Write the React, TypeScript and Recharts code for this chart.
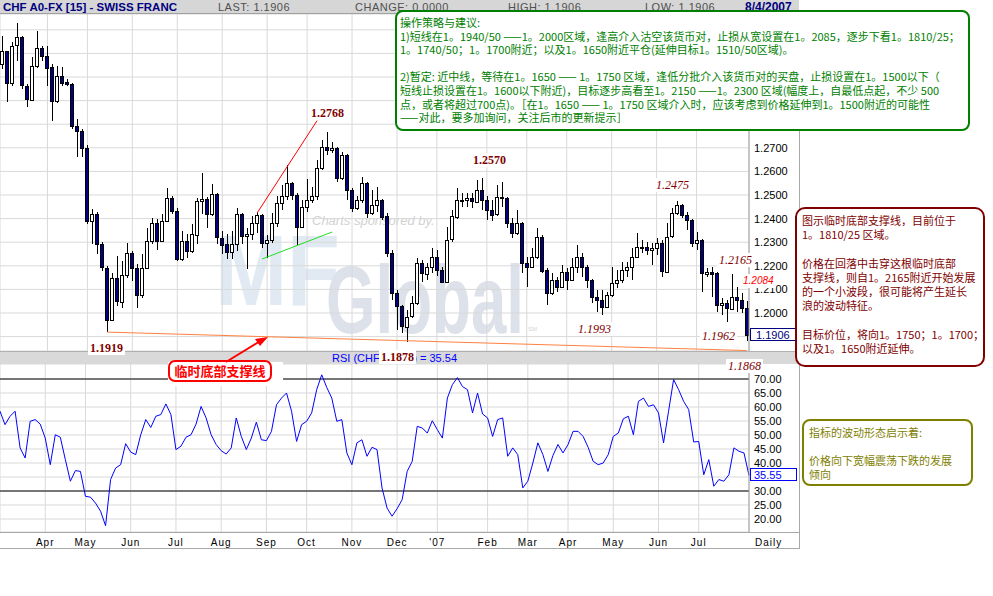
import React from "react";
import { ComposedChart, Bar, Line, XAxis, YAxis, CartesianGrid, ReferenceLine } from "recharts";

// daily USD/CHF bars (one entry per ~2.4 sessions)
const opens = [
  1.3055, 1.3111, 1.2977, 1.3133, 1.3168, 1.2963, 1.2906, 1.3048, 1.3125, 1.309,
  1.3041, 1.2899, 1.3005, 1.2977, 1.297, 1.2793, 1.2772, 1.2701, 1.239, 1.2418,
  1.2291, 1.2192, 1.1972, 1.2149, 1.205, 1.2163, 1.2255, 1.2192, 1.2078, 1.2192,
  1.2305, 1.2383, 1.2305, 1.239, 1.2489, 1.2432, 1.2227, 1.2305, 1.2262, 1.2333,
  1.2475, 1.2482, 1.2418, 1.2503, 1.2319, 1.2291, 1.2255, 1.2291, 1.2418, 1.2326,
  1.2333, 1.2381, 1.2416, 1.2296, 1.231, 1.2381, 1.2465, 1.2494, 1.255, 1.2501,
  1.2366, 1.2451, 1.2479, 1.2494, 1.2614, 1.2705, 1.2691, 1.2698, 1.2571, 1.267,
  1.2522, 1.2444, 1.2479, 1.255, 1.2423, 1.2458, 1.2479, 1.2409, 1.2253, 1.2084,
  1.2028, 1.1943, 1.1985, 1.2042, 1.2211, 1.2169, 1.2197, 1.2239, 1.2183, 1.2133,
  1.231, 1.2409, 1.2479, 1.2479, 1.2486, 1.2472, 1.2522, 1.2479, 1.2437, 1.2416,
  1.249, 1.2486, 1.238, 1.2338, 1.238, 1.2211, 1.2196, 1.2239, 1.2324, 1.2182,
  1.2083, 1.214, 1.2112, 1.2175, 1.214, 1.2196, 1.2239, 1.2196, 1.214, 1.2069,
  1.2055, 1.2027, 1.2076, 1.2126, 1.214, 1.2182, 1.2196, 1.2239, 1.2281, 1.2281,
  1.2267, 1.2274, 1.2295, 1.2175, 1.2324, 1.2422, 1.2458, 1.2415, 1.2394, 1.2295,
  1.2309, 1.2168, 1.2175, 1.2168, 1.2034, 1.2041, 1.202, 1.2069, 1.2055, 1.202,
];
const highs = [
  1.3175, 1.3055, 1.3147, 1.3227, 1.3175, 1.297, 1.3083, 1.3196, 1.3133, 1.3133,
  1.3055, 1.3048, 1.3041, 1.2991, 1.2975, 1.2821, 1.278, 1.2712, 1.2439, 1.243,
  1.23, 1.22, 1.217, 1.2241, 1.222, 1.2298, 1.2262, 1.2206, 1.2248, 1.2361,
  1.2404, 1.2397, 1.2418, 1.2531, 1.2496, 1.2446, 1.2347, 1.2333, 1.2376, 1.2489,
  1.2595, 1.249, 1.2545, 1.251, 1.2347, 1.2333, 1.2347, 1.2446, 1.2425, 1.2361,
  1.2409, 1.243, 1.242, 1.2331, 1.2423, 1.2494, 1.2543, 1.2628, 1.2557, 1.2508,
  1.2479, 1.2567, 1.2536, 1.2649, 1.2734, 1.2768, 1.2726, 1.2705, 1.2684, 1.2675,
  1.253, 1.2494, 1.2578, 1.2557, 1.2522, 1.2536, 1.2485, 1.2423, 1.2268, 1.2098,
  1.2035, 1.2013, 1.207, 1.2232, 1.2225, 1.2211, 1.2275, 1.2268, 1.2197, 1.2366,
  1.2437, 1.2529, 1.2508, 1.2508, 1.2508, 1.2564, 1.257, 1.2494, 1.2479, 1.2543,
  1.2556, 1.249, 1.2401, 1.2436, 1.2385, 1.2239, 1.2274, 1.2359, 1.233, 1.219,
  1.2168, 1.2154, 1.2203, 1.2189, 1.2232, 1.2288, 1.2253, 1.2203, 1.2145, 1.2098,
  1.2098, 1.2091, 1.2196, 1.2182, 1.2218, 1.2218, 1.2274, 1.2338, 1.2309, 1.2302,
  1.2295, 1.2316, 1.2309, 1.238, 1.2444, 1.2475, 1.2462, 1.2429, 1.24, 1.2345,
  1.2315, 1.2189, 1.2196, 1.2172, 1.2062, 1.2055, 1.2165, 1.2112, 1.2084, 1.205,
];
const lows = [
  1.3034, 1.2892, 1.2963, 1.3069, 1.2949, 1.2871, 1.2899, 1.304, 1.3069, 1.2963,
  1.2814, 1.289, 1.2963, 1.2963, 1.2779, 1.2659, 1.2659, 1.2376, 1.2291, 1.2248,
  1.2177, 1.1919, 1.1965, 1.2029, 1.2022, 1.2149, 1.2135, 1.2022, 1.2064, 1.2185,
  1.2291, 1.2269, 1.23, 1.2385, 1.2418, 1.222, 1.222, 1.2234, 1.2255, 1.2291,
  1.2418, 1.2361, 1.241, 1.2291, 1.2248, 1.2227, 1.2227, 1.2262, 1.2291, 1.2185,
  1.231, 1.2338, 1.2275, 1.2232, 1.2296, 1.2366, 1.2437, 1.2479, 1.2479, 1.2289,
  1.236, 1.243, 1.2465, 1.2479, 1.2606, 1.267, 1.2677, 1.2553, 1.2565, 1.2479,
  1.243, 1.2437, 1.2465, 1.2402, 1.2416, 1.243, 1.2395, 1.2239, 1.2056, 1.1929,
  1.1915, 1.1878, 1.1978, 1.2035, 1.2133, 1.2141, 1.2169, 1.2155, 1.2126, 1.2128,
  1.23, 1.24, 1.2451, 1.2451, 1.2444, 1.2465, 1.2437, 1.2395, 1.2388, 1.2409,
  1.2451, 1.2359, 1.2316, 1.2331, 1.2168, 1.2112, 1.2189, 1.223, 1.2168, 1.2034,
  1.2075, 1.2091, 1.2105, 1.2098, 1.2135, 1.2168, 1.2154, 1.2105, 1.2041, 1.2006,
  1.1993, 1.202, 1.2069, 1.2105, 1.2126, 1.2154, 1.214, 1.2232, 1.2253, 1.2246,
  1.2203, 1.2246, 1.2154, 1.217, 1.2318, 1.2415, 1.2401, 1.2352, 1.2281, 1.2267,
  1.2091, 1.2154, 1.2069, 1.2006, 1.1992, 1.1962, 1.2013, 1.2006, 1.1999, 1.188,
];
const closes = [
  1.3111, 1.2977, 1.3133, 1.3168, 1.2963, 1.2906, 1.3048, 1.3125, 1.309, 1.3041,
  1.2899, 1.3005, 1.2977, 1.297, 1.2793, 1.2772, 1.2701, 1.239, 1.2418, 1.2291,
  1.2192, 1.1972, 1.2149, 1.205, 1.2163, 1.2255, 1.2192, 1.2078, 1.2192, 1.2305,
  1.2383, 1.2305, 1.239, 1.2489, 1.2432, 1.2227, 1.2305, 1.2262, 1.2333, 1.2475,
  1.2482, 1.2418, 1.2503, 1.2319, 1.2291, 1.2255, 1.2291, 1.2418, 1.2326, 1.2333,
  1.2381, 1.2416, 1.2296, 1.231, 1.2381, 1.2465, 1.2494, 1.255, 1.2501, 1.2366,
  1.2451, 1.2479, 1.2494, 1.2614, 1.2705, 1.2691, 1.2698, 1.2571, 1.267, 1.2522,
  1.2444, 1.2479, 1.255, 1.2423, 1.2458, 1.2479, 1.2409, 1.2253, 1.2084, 1.2028,
  1.1943, 1.1985, 1.2042, 1.2211, 1.2169, 1.2197, 1.2239, 1.2183, 1.2133, 1.231,
  1.2409, 1.2479, 1.2479, 1.2486, 1.2472, 1.2522, 1.2479, 1.2437, 1.2416, 1.249,
  1.2486, 1.238, 1.2338, 1.238, 1.2211, 1.2196, 1.2239, 1.2324, 1.2182, 1.2083,
  1.214, 1.2112, 1.2175, 1.214, 1.2196, 1.2239, 1.2196, 1.214, 1.2069, 1.2055,
  1.2027, 1.2076, 1.2126, 1.214, 1.2182, 1.2196, 1.2239, 1.2281, 1.2281, 1.2267,
  1.2274, 1.2295, 1.2175, 1.2324, 1.2422, 1.2458, 1.2415, 1.2394, 1.2295, 1.2309,
  1.2168, 1.2175, 1.2168, 1.2034, 1.2041, 1.202, 1.2069, 1.2055, 1.202, 1.1906,
];
const rsiValues = [
  58.5, 53.7, 56.7, 58.5, 45.4, 41.8, 54.9, 55.5, 53.9, 48.9,
  39.4, 50.1, 49.2, 41.2, 33.5, 37.3, 37.0, 28.1, 27.8, 25.7,
  22.8, 17.6, 34.1, 38.2, 39.4, 46.9, 43.9, 43.0, 50.1, 55.5,
  52.7, 56.7, 57.3, 61.1, 57.3, 44.8, 46.0, 49.2, 50.1, 53.9,
  60.2, 56.1, 50.1, 46.6, 44.4, 43.2, 45.4, 56.1, 49.5, 44.8,
  48.9, 54.6, 48.3, 48.0, 51.3, 60.8, 63.2, 65.0, 58.5, 47.7,
  53.7, 54.9, 57.9, 66.2, 71.5, 67.0, 63.2, 54.9, 55.5, 43.6,
  39.4, 47.2, 48.3, 42.4, 45.6, 44.8, 31.1, 23.9, 21.0, 23.7,
  26.9, 37.0, 40.6, 53.1, 52.5, 50.7, 55.1, 51.9, 48.9, 63.2,
  68.0, 70.5, 67.3, 66.2, 57.9, 65.0, 57.5, 56.1, 49.5, 55.5,
  56.1, 42.4, 45.4, 43.0, 31.1, 33.5, 40.0, 47.2, 43.0, 37.0,
  42.7, 46.6, 43.6, 46.6, 51.3, 51.3, 49.5, 45.6, 40.6, 39.4,
  40.0, 43.0, 49.5, 50.7, 55.8, 56.7, 50.1, 62.0, 63.2, 60.2,
  60.8, 57.9, 47.2, 58.5, 69.8, 66.2, 62.0, 59.1, 47.5, 47.7,
  35.8, 41.2, 31.7, 34.1, 33.5, 35.8, 45.4, 44.2, 43.6, 35.55,
];

// first bar of each month, and its label
const monthIdx = [9, 17, 26, 35, 44, 53, 61, 70, 79, 87, 97, 105, 113, 122, 131, 139];
const monthNames = ["Apr", "May", "Jun", "Jul", "Aug", "Sep", "Oct", "Nov", "Dec", "'07", "Feb", "Mar", "Apr", "May", "Jun", "Jul"];
const priceTicks = [1.19, 1.2, 1.21, 1.22, 1.23, 1.24, 1.25, 1.26, 1.27, 1.28, 1.29, 1.3, 1.31, 1.32];
const rsiTicks = [20, 25, 30, 35, 40, 45, 50, 55, 60, 65, 70];

const data = closes.map((close, i) => ({
  i,
  open: opens[i],
  high: highs[i],
  low: lows[i],
  close,
  range: [lows[i], highs[i]],
  rsi: rsiValues[i],
}));

const cjk = '"Noto Sans CJK SC", sans-serif';
const sans = '"Liberation Sans", Arial, sans-serif';

const Candle = (props: any) => {
  const { x, y, width, height, payload } = props;
  if (!payload) return null;
  const top = Math.min(y, y + height);
  const h = Math.abs(height);
  const span = payload.high - payload.low;
  const k = span > 0 ? h / span : 0;
  const cx = Math.round(x + width / 2);
  const yo = top + (payload.high - payload.open) * k;
  const yc = top + (payload.high - payload.close) * k;
  const up = payload.close >= payload.open;
  const bTop = Math.round(Math.min(yo, yc));
  const bH = Math.max(1, Math.round(Math.abs(yo - yc)));
  return (
    <g shapeRendering="crispEdges">
      <line x1={cx + 0.5} x2={cx + 0.5} y1={Math.round(top)} y2={Math.round(top + h)} stroke="#000" />
      <rect x={cx - 1.5} y={bTop + 0.5} width={3} height={bH} fill={up ? "#fff" : "#000080"} stroke="#000" />
    </g>
  );
};

// labels for 1.19 and above 1.27 sit under the value box / comment box in the original
const PriceTick = (p: any) => {
  const v = Number(p.payload.value);
  if (v < 1.195 || v > 1.275) return <g />;
  return (
    <text x={p.x} y={p.y + 4} fontSize={11} fontFamily={sans} fill="#000">
      {v.toFixed(4)}
    </text>
  );
};

const RsiTick = (p: any) => (
  <text x={p.x} y={p.y + 4} fontSize={11} fontFamily={sans} fill="#000">
    {Number(p.payload.value).toFixed(2)}
  </text>
);

const MonthTick = (p: any) => (
  <text x={p.x} y={p.y + 14} textAnchor="middle" fontSize={10} fontFamily={sans} letterSpacing={1} fill="#000">
    {monthNames[monthIdx.indexOf(p.payload.value)] ?? ""}
  </text>
);

const Tag = ({ x, y, text, bold = false, italic = false, color = "#800000", size = 12, family = '"Liberation Serif", serif' }: any) => (
  <div
    style={{
      position: "absolute",
      left: x - 2,
      top: y - 7,
      height: 14,
      lineHeight: "14px",
      padding: "0 2px",
      fontFamily: family,
      fontSize: size,
      fontWeight: bold ? 700 : 400,
      fontStyle: italic ? "italic" : "normal",
      color,
      background: "#fff",
      whiteSpace: "nowrap",
    }}
  >
    {text}
  </div>
);

const greenLines = [
  "操作策略与建议:",
  "1)短线在1。1940/50 ——1。2000区域，逢高介入沽空该货币对，止损从宽设置在1。2085，逐步下看1。1810/25；",
  "1。1740/50；1。1700附近；以及1。1650附近平仓(延伸目标1。1510/50区域)。",
  "",
  "2)暂定: 近中线，等待在1。1650 —— 1。1750 区域，逢低分批介入该货币对的买盘，止损设置在1。1500以下（",
  "短线止损设置在1。1600以下附近)，目标逐步高看至1。2150 ——1。2300 区域(幅度上，自最低点起，不少 500",
  "点，或者将超过700点)。［在1。1650 —— 1。1750 区域介入时，应该考虑到价格延伸到1。1500附近的可能性",
  "——对此，要多加询问，关注后市的更新提示］",
];
const redLines = [
  "图示临时底部支撑线，目前位于",
  "1。1810/25 区域。",
  "",
  "价格在回落中击穿这根临时底部",
  "支撑线，则自1。2165附近开始发展",
  "的一个小波段，很可能将产生延长",
  "浪的波动特征。",
  "",
  "目标价位，将向1。1750；1。1700；",
  "以及1。1650附近延伸。",
];
const oliveLines = ["指标的波动形态启示着:", "", "价格向下宽幅震荡下跌的发展", "倾向"];

const TextBox = ({ left, top, width, height, color, radius, lines, lh, padTop, padLeft, size = 11 }: any) => (
  <div
    style={{
      position: "absolute",
      left,
      top,
      width,
      height,
      boxSizing: "border-box",
      border: `2px solid ${color}`,
      borderRadius: radius,
      background: "#fff",
      color,
      fontFamily: cjk,
      fontSize: size,
      paddingTop: padTop,
      paddingLeft: padLeft,
      overflow: "hidden",
    }}
  >
    {lines.map((t: string, k: number) => (
      <div key={k} style={{ height: lh, lineHeight: `${lh}px`, whiteSpace: "pre" }}>
        {t}
      </div>
    ))}
  </div>
);

export default function App() {
  return (
    <div style={{ position: "absolute", left: 0, top: 0, width: 993, height: 596, background: "#fff", overflow: "hidden", fontFamily: sans }}>
      {/* sponsor watermark behind the bars */}
      <svg style={{ position: "absolute", left: 0, top: 0 }} width={993} height={596}>
        <text x={215} y={305} fontSize={100} fontWeight={900} fontFamily={sans} fill="#e1eaf3" textLength={125} lengthAdjust="spacingAndGlyphs">MF</text>
        <text x={326} y={333} fontSize={96} fontWeight={700} fontFamily={sans} fill="#dde1ea" textLength={198} lengthAdjust="spacingAndGlyphs">Global</text>
        <text x={528} y={331} fontSize={6} fontFamily={sans} fill="#d4d4d4">SM</text>
        <text x={312} y={225} fontSize={13} fontStyle="italic" fontFamily={sans} fill="#d2d2d2">Charts sponsored by.</text>
      </svg>

      {/* header */}
      <div style={{ position: "absolute", left: 0, top: 0, width: 799, height: 13, background: "#d6d6d6", borderBottom: "1px solid #a0a0a0", whiteSpace: "nowrap" }}>
        <span style={{ position: "absolute", left: 3, top: 0, fontSize: 11.5, fontWeight: 700, color: "#000080", lineHeight: "14px" }}>CHF A0-FX [15] - SWISS FRANC</span>
        <span style={{ position: "absolute", left: 218, top: 0, fontSize: 11, color: "#505050", lineHeight: "14px", letterSpacing: 0.5 }}>LAST: 1.1906</span>
        <span style={{ position: "absolute", left: 355, top: 0, fontSize: 11, color: "#505050", lineHeight: "14px", letterSpacing: 0.5 }}>CHANGE: 0.0000</span>
        <span style={{ position: "absolute", left: 508, top: 0, fontSize: 11, color: "#505050", lineHeight: "14px", letterSpacing: 0.5 }}>HIGH: 1.1906</span>
        <span style={{ position: "absolute", left: 645, top: 0, fontSize: 11, color: "#505050", lineHeight: "14px", letterSpacing: 0.5 }}>LOW: 1.1906</span>
        <span style={{ position: "absolute", left: 745, top: 0, fontSize: 12, fontWeight: 700, color: "#000080", lineHeight: "14px" }}>8/4/2007</span>
      </div>

      {/* price panel */}
      <div style={{ position: "absolute", left: 0, top: 14 }}>
        <ComposedChart width={800} height={337} data={data} margin={{ top: 0, right: 0, bottom: 0, left: 0 }}>
          <CartesianGrid stroke="#d9d9d9" />
          <XAxis dataKey="i" hide ticks={monthIdx} interval={0} />
          <YAxis
            orientation="right"
            width={51}
            domain={[1.1839, 1.3267]}
            allowDataOverflow
            ticks={priceTicks}
            interval={0}
            tickLine={false}
            tickSize={0}
            tickMargin={5}
            axisLine={{ stroke: "#a0a0a0" }}
            tick={<PriceTick />}
          />
          <Bar dataKey="range" shape={(p: any) => <Candle {...p} />} isAnimationActive={false} />
          <ReferenceLine segment={[{ x: 51, y: 1.2424 }, { x: 63, y: 1.2815 }]} stroke="#ff0000" ifOverflow="visible" />
          <ReferenceLine segment={[{ x: 52, y: 1.2229 }, { x: 66, y: 1.2343 }]} stroke="#22dd22" ifOverflow="visible" />
          <ReferenceLine segment={[{ x: 21, y: 1.1919 }, { x: 149, y: 1.1841 }]} stroke="#ff8040" ifOverflow="visible" />
        </ComposedChart>
      </div>

      {/* RSI caption band */}
      <div style={{ position: "absolute", left: 0, top: 351, width: 799, height: 12, background: "#d9d9d9", borderTop: "1px solid #b0b0b0" }}>
        <span style={{ position: "absolute", left: 332, top: 0, fontSize: 11, color: "#0000ff", lineHeight: "13px", whiteSpace: "nowrap" }}>RSI (CHF A0-FX) = 35.54</span>
      </div>

      {/* RSI panel */}
      <div style={{ position: "absolute", left: 0, top: 364 }}>
        <ComposedChart width={800} height={185} data={data} margin={{ top: 0, right: 0, bottom: 0, left: 0 }}>
          <CartesianGrid stroke="#d9d9d9" />
          <XAxis
            dataKey="i"
            ticks={monthIdx}
            interval={0}
            height={17}
            axisLine={false}
            tickLine={false}
            tickSize={0}
            tickMargin={0}
            tick={<MonthTick />}
          />
          <YAxis
            orientation="right"
            width={51}
            domain={[15.36, 75.36]}
            allowDataOverflow
            ticks={rsiTicks}
            interval={0}
            tickLine={false}
            tickSize={0}
            tickMargin={5}
            axisLine={{ stroke: "#a0a0a0" }}
            tick={<RsiTick />}
          />
          <ReferenceLine y={70} stroke="#000" />
          <ReferenceLine y={30} stroke="#000" />
          <Line dataKey="rsi" type="linear" stroke="#0000ff" strokeWidth={1} dot={false} isAnimationActive={false} />
        </ComposedChart>
      </div>

      {/* frame lines */}
      <div style={{ position: "absolute", left: 0, top: 532, width: 799, height: 1, background: "#a8a8a8" }} />
      <div style={{ position: "absolute", left: 0, top: 548, width: 799, height: 1, background: "#a8a8a8" }} />
      <div style={{ position: "absolute", left: 799, top: 14, width: 1, height: 535, background: "#a8a8a8" }} />
      <div style={{ position: "absolute", left: 755, top: 537, fontSize: 10, letterSpacing: 1, color: "#000" }}>Daily</div>

      {/* last value boxes */}
      <div style={{ position: "absolute", left: 750, top: 328, width: 47, height: 13, border: "1px solid #000080", background: "#fff", color: "#000080", fontSize: 11, lineHeight: "13px", paddingLeft: 5, boxSizing: "border-box" as any }}>1.1906</div>
      <div style={{ position: "absolute", left: 750, top: 468, width: 47, height: 13, border: "1px solid #0000ff", background: "#fff", color: "#0000ff", fontSize: 11, lineHeight: "13px", paddingLeft: 3, boxSizing: "border-box" as any }}>35.55</div>

      {/* price annotations */}
      <Tag x={311} y={113} text="1.2768" bold />
      <Tag x={473} y={160} text="1.2570" bold />
      <Tag x={656} y={185} text="1.2475" italic />
      <Tag x={719} y={260} text="1.2165" italic />
      <Tag x={743} y={281} text="1.2084" italic color="#ff0000" size={10} family={sans} />
      <Tag x={578} y={329} text="1.1993" italic />
      <Tag x={702} y={336} text="1.1962" italic />
      <Tag x={90} y={348} text="1.1919" bold />
      <Tag x={381} y={357} text="1.1878" bold />
      <Tag x={728} y={366} text="1.1868" italic />

      {/* support-line callout */}
      <div style={{ position: "absolute", left: 168, top: 362, width: 115, height: 24, background: "#fff" }} />
      <div
        style={{
          position: "absolute",
          left: 168,
          top: 360,
          width: 104,
          height: 22,
          boxSizing: "border-box",
          border: "2px solid #ff0000",
          borderRadius: 7,
          background: "#fff",
          color: "#ff0000",
          fontFamily: cjk,
          fontWeight: 700,
          fontSize: 13,
          lineHeight: "18px",
          textAlign: "center",
        }}
      >
        临时底部支撑线
      </div>
      <svg style={{ position: "absolute", left: 0, top: 0, pointerEvents: "none" }} width={993} height={596}>
        <line x1={226} y1={362} x2={262} y2={340} stroke="#ff0000" strokeWidth={2} />
        <polygon points="268,337 255,339 260,346" fill="#ff0000" />
      </svg>

      {/* commentary boxes */}
      <TextBox left={395} top={10} width={575} height={121} color="#008000" radius={8} lines={greenLines} lh={13.6} padTop={4} padLeft={3} />
      <TextBox left={795} top={207} width={190} height={160} color="#800000" radius={10} lines={redLines} lh={14.2} padTop={4} padLeft={5} />
      <TextBox left={802} top={419} width={171} height={67} color="#808000" radius={8} lines={oliveLines} lh={14} padTop={4} padLeft={5} />
    </div>
  );
}
